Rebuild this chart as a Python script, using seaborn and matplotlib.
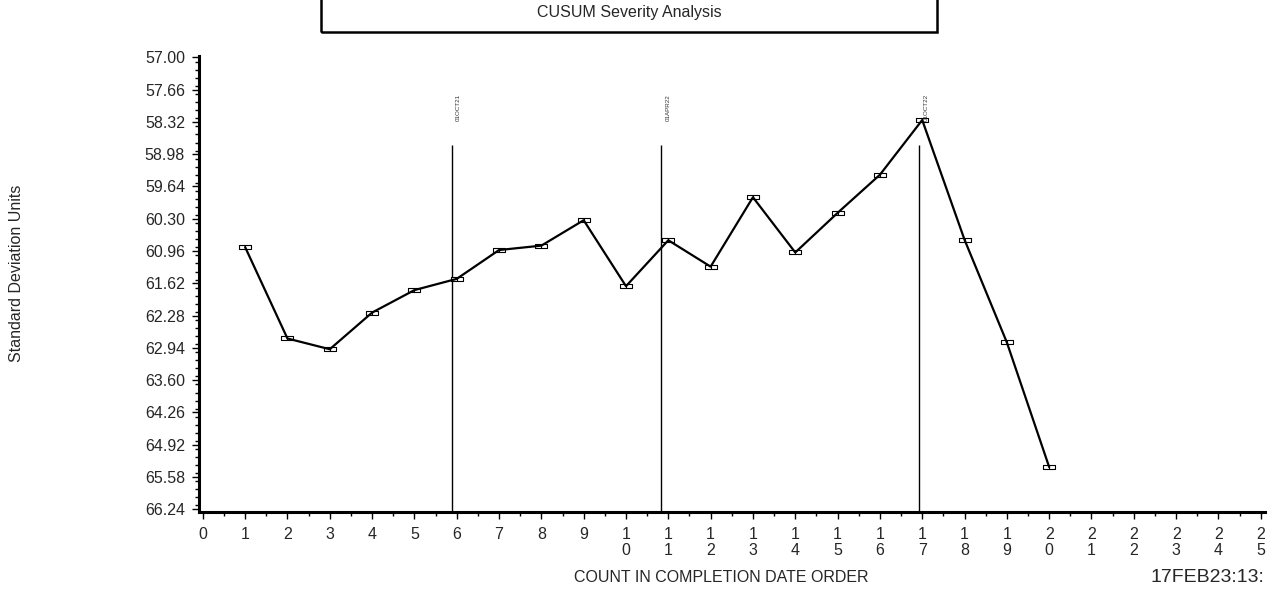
import matplotlib
matplotlib.use("Agg")
import matplotlib.pyplot as plt
import matplotlib.path as mpath
from matplotlib.patches import Rectangle
from matplotlib.ticker import FixedLocator, MultipleLocator
import pandas as pd
import seaborn as sns

# values
count = list(range(1, 21))
sd_units = [60.88, 62.75, 62.97, 62.22, 61.76, 61.53, 60.94, 60.85, 60.33, 61.68,
            60.74, 61.28, 59.86, 60.99, 60.18, 59.40, 58.28, 60.73, 62.83, 65.38]
y_tick_labels = ["57.00", "57.66", "58.32", "58.98", "59.64", "60.30", "60.96", "61.62",
                 "62.28", "62.94", "63.60", "64.26", "64.92", "65.58", "66.24"]
x_tick_values = list(range(0, 26))
date_pos = [5.88, 10.83, 16.93]
date_labels = ["01OCT21", "01APR22", "01OCT22"]

df = pd.DataFrame({"count": count, "sd": sd_units})

sns.set_style("ticks")
plt.rcParams["font.family"] = ["Liberation Sans", "DejaVu Sans"]

fig = plt.figure(figsize=(12.75, 5.92), dpi=100)
ax = fig.add_axes([199 / 1275, 1 - 512 / 592, (1265 - 199) / 1275, (512 - 56) / 592])

# line first, box markers underneath
sns.lineplot(data=df, x="count", y="sd", ax=ax, color="black", linewidth=1.6, zorder=3)
box = mpath.Path([(-1, -0.42), (1, -0.42), (1, 0.42), (-1, 0.42), (-1, -0.42),
                  (0, -0.42), (0, 0.42)],
                 [1, 2, 2, 2, 79, 1, 2])
sns.scatterplot(data=df, x="count", y="sd", ax=ax, marker=box, s=70,
                facecolor="white", edgecolor="black", linewidth=0.8, zorder=2)

# date reference lines
ax.vlines(date_pos, 58.79, 66.30, color="black", linewidth=1.0, zorder=1)
for xp, lab in zip(date_pos, date_labels):
    ax.text(xp + 0.1, 58.31, lab, rotation=90, fontsize=4.5, color="#333333",
            ha="left", va="bottom")

ax.set_xlim(-0.09, 25.1)
ax.set_ylim(66.30, 56.97)

y_vals = [float(v) for v in y_tick_labels]
ax.yaxis.set_major_locator(FixedLocator(y_vals))
ax.set_yticklabels(y_tick_labels)
ax.yaxis.set_minor_locator(MultipleLocator(0.165))
ax.xaxis.set_major_locator(FixedLocator(x_tick_values))
ax.set_xticklabels(["\n".join(str(v)) for v in x_tick_values], linespacing=1.1)
ax.xaxis.set_minor_locator(MultipleLocator(0.5))

ax.tick_params(axis="both", which="major", labelsize=11.5, length=5, width=1.0,
               direction="out", color="black")
ax.tick_params(axis="x", which="major", pad=6)
ax.tick_params(axis="y", which="major", pad=5)
ax.tick_params(axis="both", which="minor", length=3, width=1.0, color="black")

for side in ["top", "right"]:
    ax.spines[side].set_visible(False)
for side in ["left", "bottom"]:
    ax.spines[side].set_linewidth(2.2)
    ax.spines[side].set_color("black")

ax.set_xlabel("")
ax.set_ylabel("")

fig.text(721 / 1275, 1 - 578 / 592, "COUNT IN COMPLETION DATE ORDER",
         ha="center", va="center", fontsize=11.5)
fig.text(17 / 1275, 1 - 273 / 592, "Standard Deviation Units", rotation=90,
         ha="center", va="center", fontsize=11.5)
fig.text(1150 / 1275, 1 - 578 / 592, "17FEB23:13:", ha="left", va="center",
         fontsize=14)

# title box
fig.patches.append(Rectangle((321 / 1275, 1 - 32 / 592), (937 - 321) / 1275, 0.2,
                             transform=fig.transFigure, fill=False,
                             edgecolor="black", linewidth=1.8))
fig.text(629 / 1275, 1 - 13 / 592, "CUSUM Severity Analysis", ha="center",
         va="center", fontsize=11.5)

fig.savefig("out.png", dpi=100)
